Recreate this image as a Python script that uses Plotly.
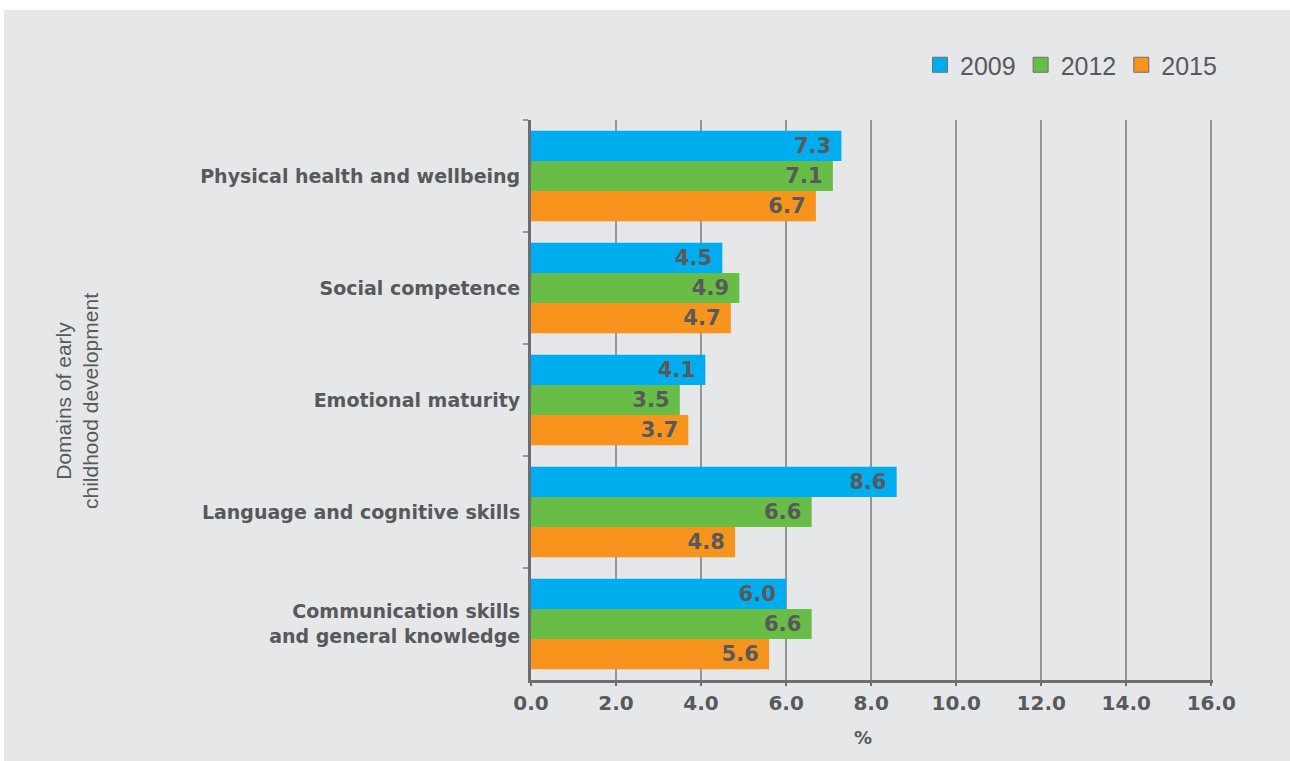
import plotly.graph_objects as go

# Domains of early childhood development (top to bottom)
domains = [
    "Physical health and wellbeing",
    "Social competence",
    "Emotional maturity",
    "Language and cognitive skills",
    "Communication skills<br>and general knowledge",
]
years = ["2009", "2012", "2015"]
values_2009 = [7.3, 4.5, 4.1, 8.6, 6.0]
values_2012 = [7.1, 4.9, 3.5, 6.6, 6.6]
values_2015 = [6.7, 4.7, 3.7, 4.8, 5.6]
x_ticks = [0, 2, 4, 6, 8, 10, 12, 14, 16]

series = [values_2009, values_2012, values_2015]
colors = ["#00aeef", "#67bd45", "#f7941d"]

TEXT = "#58595b"
BG = "#e6e7e8"
BOLD = "DejaVu Sans, Arial, sans-serif"
REG = "Liberation Sans, Arial, sans-serif"

W, H = 1290, 761
L, R, T, B = 531, 77, 120, 81
pw, ph = W - L - R, H - T - B

fig = go.Figure()
for name, vals, col in zip(years, series, colors):
    fig.add_trace(go.Bar(
        name=name,
        y=domains,
        x=vals,
        orientation="h",
        marker=dict(color=col, line=dict(width=0)),
        text=[f"{v:.1f}\u00a0" for v in vals],
        textposition="inside",
        insidetextanchor="end",
        textfont=dict(family=BOLD, size=21, color=TEXT, weight="bold"),
        constraintext="none",
        showlegend=False,
        hoverinfo="skip",
    ))

# legend keys: outlined squares
for name, col in zip(years, colors):
    fig.add_trace(go.Scatter(
        name=name,
        x=[None], y=[None],
        mode="markers",
        marker=dict(symbol="square", size=15, color=col,
                    line=dict(color="#6d6e71", width=1)),
        showlegend=True,
        hoverinfo="skip",
    ))

fig.update_layout(
    width=W, height=H,
    margin=dict(l=L, r=R, t=T, b=B, pad=0),
    paper_bgcolor=BG,
    plot_bgcolor=BG,
    barmode="group",
    bargap=0.19,
    bargroupgap=0,
    font=dict(family=REG, color=TEXT),
    showlegend=True,
    legend=dict(
        orientation="h",
        x=(1222 - L) / pw, xanchor="right",
        y=1 + (T - 65) / ph, yanchor="middle",
        font=dict(family=REG, size=25, color=TEXT),
        bgcolor="rgba(0,0,0,0)",
        itemwidth=30,
        traceorder="normal",
    ),
    xaxis=dict(
        range=[0, 16.04],
        tickvals=x_ticks,
        ticktext=[f"{v:.1f}" for v in x_ticks],
        tickfont=dict(family=BOLD, size=20, color=TEXT, weight="bold"),
        showgrid=True,
        gridcolor="#939598",
        gridwidth=1.5,
        showline=True,
        linecolor="#6d6e71",
        linewidth=3,
        ticks="outside",
        ticklen=3,
        tickcolor="#6d6e71",
        tickwidth=1.5,
        zeroline=False,
        fixedrange=True,
    ),
    yaxis=dict(
        autorange="reversed",
        tickfont=dict(family=BOLD, size=19, color=TEXT, weight="bold"),
        showgrid=False,
        showline=True,
        linecolor="#6d6e71",
        linewidth=3,
        ticks="outside",
        tickson="boundaries",
        ticklen=5,
        tickcolor="#939598",
        tickwidth=1.5,
        ticklabelstandoff=4,
        zeroline=False,
        fixedrange=True,
    ),
    shapes=[
        # white frame strips along the top and left edges
        dict(type="rect", xref="paper", yref="paper", layer="above",
             x0=-L / pw - 0.01, x1=1 + R / pw + 0.01,
             y0=1 + (T - 10) / ph, y1=1 + T / ph + 0.01,
             fillcolor="white", line=dict(width=0)),
        dict(type="rect", xref="paper", yref="paper", layer="above",
             x0=-L / pw - 0.01, x1=-(L - 4) / pw,
             y0=-B / ph - 0.01, y1=1 + T / ph + 0.01,
             fillcolor="white", line=dict(width=0)),
    ],
    annotations=[
        dict(text="Domains of early<br>childhood development",
             xref="paper", yref="paper",
             x=(77 - L) / pw, y=1 - (401 - T) / ph,
             xanchor="center", yanchor="middle",
             textangle=-90, showarrow=False,
             font=dict(family=REG, size=21, color=TEXT)),
        dict(text="<b>%</b>",
             xref="paper", yref="paper",
             x=(863 - L) / pw, y=-(737 - (T + ph)) / ph,
             xanchor="center", yanchor="middle",
             showarrow=False,
             font=dict(family=BOLD, size=18, color=TEXT)),
    ],
)

fig.write_html("out.html")
